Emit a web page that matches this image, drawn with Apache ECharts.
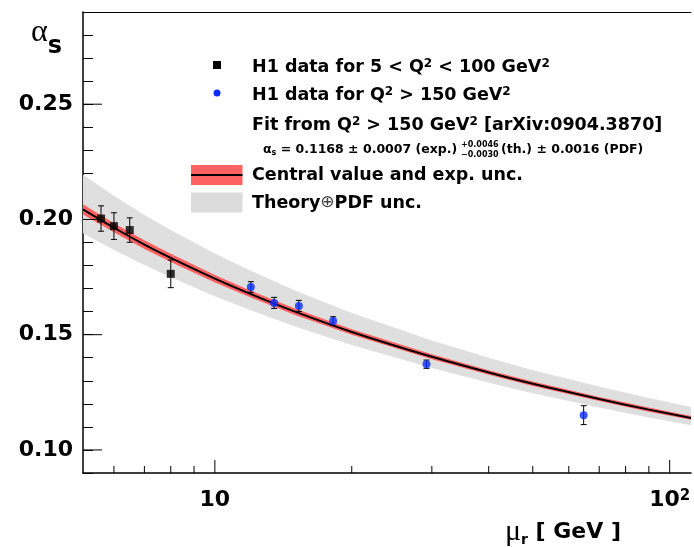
<!DOCTYPE html>
<html>
<head>
<meta charset="utf-8">
<script src="https://cdn.jsdelivr.net/npm/echarts@6/dist/echarts.min.js"></script>
<style>
  html, body { margin: 0; padding: 0; background: #fff; overflow: hidden; width: 694px; height: 547px; }
  #chart { width: 694px; height: 547px; overflow: hidden; }
</style>
</head>
<body>
<div id="chart"></div>
<script>
// H1 data for 5 < Q2 < 100 GeV2
var lowMu = [5.62, 6.0, 6.5, 8.0];
var lowAlpha = [0.2004, 0.1971, 0.1954, 0.1764];
var lowErr = [0.0055, 0.0058, 0.0053, 0.0060];
// H1 data for Q2 > 150 GeV2
var highMu = [12.0, 13.5, 15.3, 18.2, 29.2, 64.7];
var highAlpha = [0.1707, 0.1638, 0.1625, 0.1559, 0.1372, 0.1151];
var highErr = [0.0023, 0.0024, 0.0024, 0.0019, 0.0018, 0.0041];
// fit curve and bands
var fitMu = [5.13, 6, 7, 8, 10, 12, 15, 20, 30, 40, 50, 70, 90, 111.4];
var fitCentral = [0.2044, 0.1964, 0.1891, 0.1833, 0.1743, 0.1676, 0.1600, 0.1512, 0.1404, 0.1336, 0.1287, 0.1221, 0.1175, 0.1139];
var expHigh = [0.2066, 0.1984, 0.1910, 0.1851, 0.1759, 0.1691, 0.1614, 0.1524, 0.1415, 0.1346, 0.1297, 0.1230, 0.1184, 0.1147];
var expLow = [0.2022, 0.1944, 0.1872, 0.1815, 0.1727, 0.1661, 0.1586, 0.1500, 0.1393, 0.1326, 0.1277, 0.1212, 0.1166, 0.1131];
var thHigh = [0.2194, 0.2103, 0.2019, 0.1954, 0.1852, 0.1777, 0.1692, 0.1594, 0.1475, 0.1400, 0.1346, 0.1275, 0.1225, 0.1186];
var thLow = [0.1940, 0.1868, 0.1802, 0.1749, 0.1667, 0.1606, 0.1536, 0.1455, 0.1355, 0.1292, 0.1246, 0.1184, 0.1141, 0.1107];
// axis ticks
var xTicksMajor = [10, 100];
var xTicksMinor = [6, 7, 8, 9, 20, 30, 40, 50, 60, 70, 80, 90];
var yTicksMajor = [0.10, 0.15, 0.20, 0.25];

var X_MIN = 5.13, X_MAX = 111.4, Y_MIN = 0.09, Y_MAX = 0.29;
var FONT = '"DejaVu Sans", sans-serif';

(function () {
  var chartDom = document.getElementById('chart');
  var myChart = echarts.init(chartDom);

  // band polygon between two curves
  function band(lowArr, highArr, color) {
    return function (params, api) {
      var pts = [];
      for (var i = 0; i < fitMu.length; i++) pts.push(api.coord([fitMu[i], highArr[i]]));
      for (var j = fitMu.length - 1; j >= 0; j--) pts.push(api.coord([fitMu[j], lowArr[j]]));
      return { type: 'polygon', shape: { points: pts }, style: { fill: color } };
    };
  }

  // vertical error bar with small caps
  function errorBar(params, api) {
    var lo = api.coord([api.value(0), api.value(1)]);
    var hi = api.coord([api.value(0), api.value(2)]);
    var w = 3;
    var st = { stroke: '#000', lineWidth: 1 };
    return {
      type: 'group',
      children: [
        { type: 'line', shape: { x1: lo[0], y1: lo[1], x2: hi[0], y2: hi[1] }, style: st },
        { type: 'line', shape: { x1: lo[0] - w, y1: lo[1], x2: lo[0] + w, y2: lo[1] }, style: st },
        { type: 'line', shape: { x1: hi[0] - w, y1: hi[1], x2: hi[0] + w, y2: hi[1] }, style: st }
      ]
    };
  }

  function errData(mu, a, e) {
    return mu.map(function (m, i) { return [m, a[i] - e[i], a[i] + e[i]]; });
  }

  function legendText(x, y, text) {
    return {
      type: 'text', x: x, y: y,
      style: {
        text: text, fill: '#000',
        fontFamily: FONT, fontWeight: 'bold', fontSize: 17.5,
        verticalAlign: 'middle',
        rich: {
          sup: { fontFamily: FONT, fontWeight: 'bold', fontSize: 12, verticalAlign: 'top', lineHeight: 12, fill: '#000' },
          o: { fontFamily: FONT, fontWeight: 'normal', fontSize: 17, fill: '#444' }
        }
      }
    };
  }

  function smallText(x, y, text, size) {
    return {
      type: 'text', x: x, y: y,
      style: {
        text: text, fill: '#000',
        fontFamily: FONT, fontWeight: 'bold', fontSize: size,
        verticalAlign: 'middle',
        rich: {
          sub: { fontFamily: FONT, fontWeight: 'bold', fontSize: 8, verticalAlign: 'bottom', padding: [6, 0, 0, 0], fill: '#000' }
        }
      }
    };
  }

  var option = {
    backgroundColor: '#fff',
    animation: false,
    grid: {
      left: 83, right: 0, top: 12, bottom: 71,
      show: false
    },
    xAxis: [
      {
        type: 'log',
        logBase: 10,
        min: X_MIN,
        max: X_MAX,
        name: '{mu|μ}{r|r}{t| [ GeV ]}',
        nameLocation: 'end',
        nameGap: -70,
        nameTextStyle: {
          align: 'right',
          verticalAlign: 'top',
          padding: [44, 0, 0, 0],
          rich: {
            mu: { fontFamily: 'Liberation Serif', fontSize: 30, color: '#000' },
            r: { fontFamily: FONT, fontWeight: 'bold', fontSize: 14, color: '#000', verticalAlign: 'bottom', padding: [14, 0, 0, 0] },
            t: { fontFamily: FONT, fontWeight: 'bold', fontSize: 22, color: '#000' }
          }
        },
        axisLine: { lineStyle: { color: '#000', width: 1.5 } },
        axisTick: { show: false },
        splitLine: { show: false },
        axisLabel: {
          margin: 16,
          color: '#000',
          fontFamily: FONT,
          fontWeight: 'bold',
          fontSize: 22,
          formatter: function (v) {
            var e = Math.log10(v);
            if (Math.abs(e - Math.round(e)) > 1e-6) return '';
            e = Math.round(e);
            return e === 1 ? '10' : '10{sup|' + e + '}';
          },
          rich: {
            sup: { fontFamily: FONT, fontWeight: 'bold', fontSize: 15, color: '#000', verticalAlign: 'top', lineHeight: 14 }
          }
        }
      },
      {
        // top frame line only
        type: 'log',
        logBase: 10,
        min: X_MIN,
        max: X_MAX,
        position: 'top',
        axisLine: { lineStyle: { color: '#000', width: 1 } },
        axisTick: { show: false },
        axisLabel: { show: false },
        splitLine: { show: false }
      }
    ],
    yAxis: {
      type: 'value',
      min: Y_MIN,
      max: Y_MAX,
      interval: 0.01,
      name: '{a|α}{s|s}',
      nameLocation: 'end',
      nameGap: -5,
      nameTextStyle: {
        align: 'right',
        verticalAlign: 'top',
        padding: [0, 21, 0, 0],
        rich: {
          a: { fontFamily: 'Liberation Serif', fontSize: 32, color: '#000', verticalAlign: 'top', lineHeight: 30 },
          s: { fontFamily: FONT, fontWeight: 'bold', fontSize: 24, color: '#000', verticalAlign: 'bottom', padding: [18, 0, 0, 0] }
        }
      },
      axisLine: { show: true, lineStyle: { color: '#000', width: 1.5 } },
      axisTick: { show: true, inside: true, length: 10, lineStyle: { color: '#000' } },
      splitLine: { show: false },
      axisLabel: {
        margin: 10,
        color: '#000',
        fontFamily: FONT,
        fontWeight: 'bold',
        fontSize: 22,
        formatter: function (v) {
          if (Math.abs(v * 20 - Math.round(v * 20)) > 1e-6) return '';
          return v.toFixed(2);
        }
      }
    },
    series: [
      {
        name: 'Theory⊕PDF unc.',
        type: 'custom',
        renderItem: band(thLow, thHigh, '#dfdfdf'),
        data: [[fitMu[0], fitCentral[0]]],
        silent: true,
        z: 1
      },
      {
        name: 'Central value and exp. unc.',
        type: 'custom',
        renderItem: band(expLow, expHigh, '#ff6262'),
        data: [[fitMu[0], fitCentral[0]]],
        silent: true,
        z: 2
      },
      {
        name: 'Central value',
        type: 'line',
        data: fitMu.map(function (m, i) { return [m, fitCentral[i]]; }),
        showSymbol: false,
        smooth: 0.3,
        lineStyle: { color: '#000', width: 2 },
        z: 3
      },
      {
        type: 'custom',
        renderItem: errorBar,
        encode: { x: 0, y: [1, 2] },
        data: errData(lowMu, lowAlpha, lowErr),
        z: 4
      },
      {
        type: 'custom',
        renderItem: errorBar,
        encode: { x: 0, y: [1, 2] },
        data: errData(highMu, highAlpha, highErr),
        z: 4
      },
      {
        name: 'H1 data for 5 < Q2 < 100 GeV2',
        type: 'scatter',
        symbol: 'rect',
        symbolSize: 8,
        itemStyle: { color: '#000' },
        data: lowMu.map(function (m, i) { return [m, lowAlpha[i]]; }),
        z: 5
      },
      {
        name: 'H1 data for Q2 > 150 GeV2',
        type: 'scatter',
        symbol: 'circle',
        symbolSize: 8,
        itemStyle: { color: '#0a2cff' },
        data: highMu.map(function (m, i) { return [m, highAlpha[i]]; }),
        z: 5
      },
      // log-axis ticks (major and 2..9 minor)
      {
        type: 'custom',
        silent: true,
        renderItem: function (params, api) {
          var p = api.coord([api.value(0), Y_MIN]);
          var len = api.value(1) ? 13 : 7;
          return { type: 'line', shape: { x1: p[0], y1: p[1], x2: p[0], y2: p[1] - len }, style: { stroke: '#000', lineWidth: 1 } };
        },
        data: xTicksMajor.map(function (v) { return [v, 1]; })
          .concat(xTicksMinor.map(function (v) { return [v, 0]; })),
        z: 6
      },
      // long y ticks at labelled values
      {
        type: 'custom',
        silent: true,
        renderItem: function (params, api) {
          var p = api.coord([X_MIN, api.value(1)]);
          return { type: 'line', shape: { x1: p[0], y1: p[1], x2: p[0] + 19, y2: p[1] }, style: { stroke: '#000', lineWidth: 1 } };
        },
        data: yTicksMajor.map(function (v) { return [X_MIN, v]; }),
        z: 6
      }
    ],
    graphic: [
      // legend markers
      { type: 'rect', shape: { x: 213, y: 61, width: 8, height: 8 }, style: { fill: '#000' } },
      { type: 'circle', shape: { cx: 217, cy: 93, r: 3.5 }, style: { fill: '#0a2cff' } },
      { type: 'rect', shape: { x: 191, y: 165, width: 51.5, height: 20 }, style: { fill: '#ff6262' } },
      { type: 'line', shape: { x1: 191, y1: 175, x2: 242.5, y2: 175 }, style: { stroke: '#000', lineWidth: 2 } },
      { type: 'rect', shape: { x: 191, y: 192.5, width: 51.5, height: 20 }, style: { fill: '#dcdcdc' } },
      // legend texts
      legendText(252, 67, 'H1 data for 5 < Q{sup|2} < 100 GeV{sup|2}'),
      legendText(252, 95, 'H1 data for Q{sup|2} > 150 GeV{sup|2}'),
      legendText(252, 125, 'Fit from Q{sup|2} > 150 GeV{sup|2} [arXiv:0904.3870]'),
      smallText(263, 149.5, 'α{sub|s} = 0.1168 ± 0.0007 (exp.)', 12.5),
      smallText(461, 145, '+0.0046', 8),
      smallText(461, 155, '−0.0030', 8),
      smallText(501, 149.5, '(th.) ± 0.0016 (PDF)', 12.5),
      legendText(252, 175, 'Central value and exp. unc.'),
      legendText(252, 203, 'Theory{o|⊕}PDF unc.')
    ]
  };

  option && myChart.setOption(option);
})();
</script>
</body>
</html>
